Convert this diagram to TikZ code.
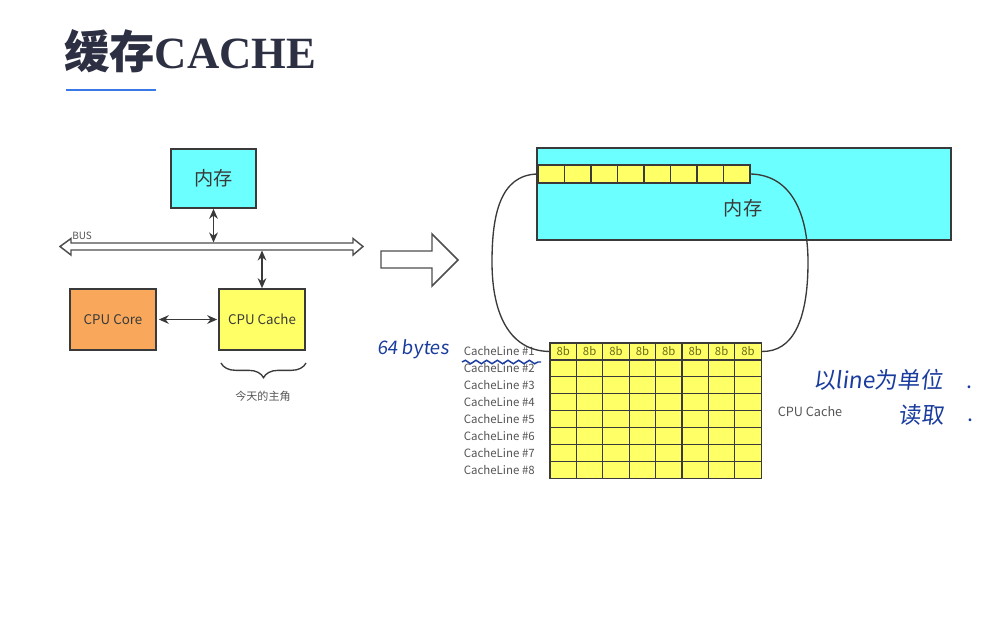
\documentclass[tikz,border=0pt]{standalone}
\usepackage{fontspec}
\setmainfont{Noto Sans CJK SC}
\newfontfamily\cjk{Noto Sans CJK SC}
\newfontfamily\tserif{Liberation Serif}
\newfontfamily\hand{Noto Sans CJK SC}[FakeSlant=0.12]
\usetikzlibrary{arrows.meta,decorations.pathreplacing,decorations.pathmorphing,calc}
\definecolor{memcyan}{HTML}{6CFFFF}
\definecolor{cacheyel}{HTML}{FFFF66}
\definecolor{coreorg}{HTML}{F8A75B}
\definecolor{edge}{HTML}{3A3A3A}
\definecolor{lbl}{HTML}{555555}
\definecolor{titlec}{HTML}{2C3042}
\definecolor{ulblue}{HTML}{3B78E7}
\definecolor{handblue}{HTML}{1A3C9E}
\definecolor{eightb}{HTML}{6B6B1A}
\tikzset{
  box/.style={draw=edge, line width=1.2pt, inner sep=0pt, text=edge},
  cell/.style={draw=edge, line width=1pt, fill=cacheyel, inner sep=0pt,
    minimum width=19.8pt, minimum height=12.675pt},
  rowcell/.style={draw=edge, line width=1pt, fill=cacheyel, inner sep=0pt,
    minimum width=19.875pt, minimum height=13.5pt},
  dbl/.style={draw=edge, line width=1.1pt, {Stealth[length=7.5pt,width=6.5pt]}-{Stealth[length=7.5pt,width=6.5pt]}},
  hollow/.style={draw=edge!90, line width=1.1pt, fill=white, line join=miter},
  curve/.style={draw=edge, line width=1pt},
  cl/.style={font=\fontsize{8.6}{9}\selectfont, text=lbl, inner sep=0pt},
  handtxt/.style={text=handblue, inner sep=0pt},
}
\begin{document}
\begin{tikzpicture}[x=0.75pt,y=-0.75pt]
\path[use as bounding box, fill=white] (0,0) rectangle (1002,618);

% title
\node[anchor=base west, inner sep=0pt, text=titlec] (title) at (64,68)
  {{\cjk\bfseries\fontsize{34}{36}\selectfont 缓存}{\tserif\bfseries\fontsize{33.5}{36}\selectfont CACHE}};
\coordinate (ul1) at (66,90);
\coordinate (ul2) at (156,90);
\draw[ulblue, line width=1.5pt] (ul1) -- (ul2);

% left diagram
\node[box, fill=memcyan, minimum width=63.75pt, minimum height=44.25pt,
  font=\fontsize{14.4}{15}\selectfont] (mem) at (213.5,178.5) {内存};
\node[box, fill=coreorg, minimum width=64.5pt, minimum height=45.75pt,
  font=\fontsize{10}{11}\selectfont] (core) at (113,319.5) {CPU Core};
\node[box, fill=cacheyel, minimum width=64.5pt, minimum height=45.75pt,
  font=\fontsize{10}{11}\selectfont] (cache) at (262,319.5) {CPU Cache};

% bus
\path[hollow] (60,246.5) -- (71,238.5) -- (71,243) -- (353,243) -- (353,238.5)
  -- (363,246.5) -- (353,255) -- (353,250) -- (71,250) -- (71,255) -- cycle;
\node[anchor=base west, inner sep=0pt, text=lbl, font=\fontsize{7.5}{8}\selectfont] (bus) at (72,239.5) {BUS};
\coordinate (busT) at (0,242.5);
\coordinate (busB) at (0,250.5);
\draw[dbl] (mem.south) -- (mem.south |- busT);
\draw[dbl] (cache.north) -- (cache.north |- busB);
\path (core.east) ++(2,0) coordinate (ce);
\path (cache.west) ++(-1,0) coordinate (cw);
\draw[dbl] (ce) -- (cw);

% brace
\coordinate (brL) at (221,363);
\coordinate (brR) at (306,363);
\draw[edge, line width=1pt, decorate, decoration={brace, mirror, amplitude=11pt}] (brL) -- (brR);
\node[text=lbl, font=\fontsize{8.3}{9}\selectfont] (hero) at (263,396) {今天的主角};

% big hollow arrow
\path[hollow] (381,251) -- (432,251) -- (432,234) -- (458,260) -- (432,286) -- (432,268) -- (381,268) -- cycle;

% right memory
\node[box, fill=memcyan, minimum width=310.5pt, minimum height=69pt] (bigmem) at (744,194) {};
\node[text=edge, font=\fontsize{14.4}{15}\selectfont, inner sep=0pt] (memlbl) at (743,208) {内存};
\foreach \i in {1,...,8} {
  \node[rowcell] (m-\i) at ({538+26.5*(\i-0.5)},174) {};
}

% cache grid
\foreach \r in {1,...,8} {
  \node[cl, anchor=east] (lab-\r) at (535,{343+16.9*(\r-0.5)}) {CacheLine \#\r};
  \foreach \c in {1,...,8} {
    \node[cell] (g-\r-\c) at ({550+26.4*(\c-0.5)},{343+16.9*(\r-0.5)}) {};
  }
}
\foreach \c in {1,...,8} {
  \node[font=\fontsize{8.5}{9}\selectfont, text=eightb, inner sep=0pt] (b-\c) at (g-1-\c) {8b};
}

% curves
\draw[curve] (m-1.west) .. controls (500,175) and (492,215) .. (492,262)
  .. controls (492,318) and (512,351) .. (g-1-1.west);
\draw[curve] (m-8.east) .. controls (792,175) and (808,215) .. (808,262)
  .. controls (808,322) and (792,352) .. (g-1-8.east);

\node[text=lbl, font=\fontsize{9.5}{10}\selectfont, inner sep=0pt] (cpuc) at (810,412) {CPU Cache};

% handwriting
\node[handtxt, font=\hand\fontsize{14}{15}\selectfont] (h64) at (413,349) {64 bytes};
\coordinate (wl) at (462,362);
\coordinate (wr) at (541,362);
\draw[handblue, line width=1.1pt, decorate, decoration={snake, amplitude=1.3pt, segment length=8pt}] (wl) -- (wr);
\node[handtxt, font=\hand\fontsize{17}{18}\selectfont] (h1) at (878,380) {以line为单位};
\node[handtxt, font=\hand\fontsize{17}{18}\selectfont] (h2) at (921,415) {读取};
\node[handtxt, font=\fontsize{16}{16}\selectfont] (d1) at (969,387) {.};
\node[handtxt, font=\fontsize{16}{16}\selectfont] (d2) at (970,420) {.};
\end{tikzpicture}
\end{document}
